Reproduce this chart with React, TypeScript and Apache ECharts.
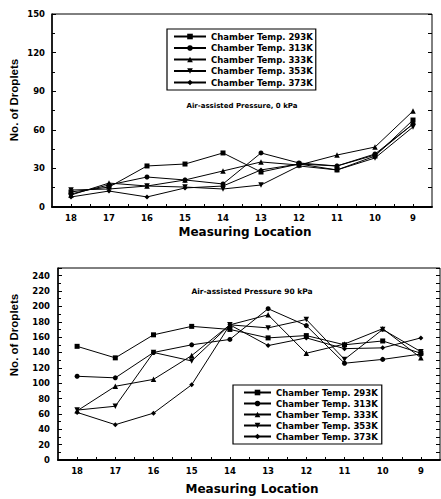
import React, { useEffect, useRef } from "react";
import * as echarts from "echarts";

// Measuring locations (x axis, plotted right-to-left from 18 down to 9)
const locations = [18, 17, 16, 15, 14, 13, 12, 11, 10, 9];
const seriesNames = [
  "Chamber Temp. 293K",
  "Chamber Temp. 313K",
  "Chamber Temp. 333K",
  "Chamber Temp. 353K",
  "Chamber Temp. 373K",
];

// Upper chart (air-assisted pressure 0 kPa)
const top293 = [11.7, 15.5, 31.9, 33.4, 42.0, 27.2, 33.4, 28.8, 39.6, 67.6];
const top313 = [10.1, 17.1, 23.3, 21.0, 17.9, 42.0, 34.2, 31.9, 41.2, 64.5];
const top333 = [9.3, 18.6, 16.3, 21.0, 28.0, 35.0, 32.6, 40.4, 46.6, 74.6];
const top353 = [13.2, 14.0, 16.3, 15.5, 14.0, 17.1, 31.9, 28.8, 38.1, 62.2];
const top373 = [7.8, 12.4, 7.8, 14.8, 16.3, 28.8, 33.4, 31.9, 40.4, 64.5];

// Lower chart (air-assisted pressure 90 kPa)
const bot293 = [148, 133, 163, 174, 170, 159, 162, 150, 155, 139];
const bot313 = [109, 107, 140, 150, 157, 197, 175, 126, 131, 138];
const bot333 = [64, 96, 105, 136, 176, 189, 139, 151, 171, 133];
const bot353 = [65, 70, 140, 129, 176, 172, 183, 131, 170, 141];
const bot373 = [62, 46, 61, 98, 176, 149, 159, 145, 146, 159];

const topTitle = "Air-assisted Pressure, 0 kPa";
const botTitle = "Air-assisted Pressure 90 kPa";
const yName = "No. of Droplets";
const xName = "Measuring Location";

const symbols = [
  "rect",
  "circle",
  "triangle",
  "path://M0,0L10,0L5,9Z",
  "diamond",
];
const symbolSizes = [5, 5, 5.5, 5.5, 5];

const FONT = "DejaVu Sans";

export default function App() {
  const ref = useRef<HTMLDivElement>(null);
  useEffect(() => {
    if (!ref.current) return;
    const chart = echarts.init(ref.current, null, { renderer: "svg" });

    const labelStyle = {
      color: "#000",
      fontFamily: FONT,
      fontWeight: "bold" as const,
      fontSize: 8.5,
    };

    const mkX = (gi: number) => ({
      type: "value",
      gridIndex: gi,
      inverse: true,
      min: 8.5,
      max: 18.5,
      interval: 0.5,
      axisLine: { show: true, lineStyle: { color: "#000", width: 2 } },
      axisTick: { show: true, inside: true, length: 3, lineStyle: { color: "#000", width: 1 } },
      axisLabel: {
        ...labelStyle,
        margin: 6,
        showMinLabel: false,
        showMaxLabel: false,
        formatter: (v: number) => (Number.isInteger(v) && locations.includes(v) ? String(v) : ""),
      },
      splitLine: { show: false },
    });

    const topData = [top293, top313, top333, top353, top373];
    const botData = [bot293, bot313, bot333, bot353, bot373];

    const mkSeries = (data: number[][], xi: number, yi: number) =>
      data.map((vals, i) => ({
        type: "line",
        name: seriesNames[i],
        xAxisIndex: xi,
        yAxisIndex: yi,
        data: vals.map((v, k) => [locations[k], v]),
        symbol: symbols[i],
        symbolSize: symbolSizes[i],
        showAllSymbol: true,
        lineStyle: { color: "#000", width: 1 },
        itemStyle: { color: "#000" },
        emphasis: { disabled: true },
      }));

    const legendBase = {
      orient: "vertical",
      selectedMode: false,
      borderColor: "#000",
      borderWidth: 1.2,
      backgroundColor: "#fff",
      itemHeight: 7,
      textStyle: { ...labelStyle, fontSize: 8.5 },
      data: seriesNames,
    };

    const tickStyle = { color: "#000" };

    const option: any = {
      animation: false,
      grid: [
        { left: 52, top: 14, width: 380, height: 193, show: true, borderColor: "#000", borderWidth: 1 },
        { left: 58, top: 268, width: 382, height: 192, show: true, borderColor: "#000", borderWidth: 1 },
      ],
      xAxis: [mkX(0), mkX(1)],
      yAxis: [
        {
          type: "value",
          gridIndex: 0,
          min: 0,
          max: 150,
          interval: 30,
          axisLine: { show: true, lineStyle: { color: "#000", width: 1.5 } },
          axisTick: { show: true, inside: true, length: 4, lineStyle: tickStyle },
          minorTick: { show: true, splitNumber: 2, length: 3, lineStyle: tickStyle },
          axisLabel: { ...labelStyle, margin: 7 },
          splitLine: { show: false },
        },
        {
          type: "value",
          gridIndex: 0,
          position: "right",
          min: 0,
          max: 150,
          interval: 15,
          axisLine: { show: false },
          axisTick: { show: true, inside: true, length: 4, lineStyle: tickStyle },
          axisLabel: { show: false },
          splitLine: { show: false },
        },
        {
          type: "value",
          gridIndex: 1,
          min: 0,
          max: 250,
          interval: 20,
          axisLine: { show: true, lineStyle: { color: "#000", width: 1.5 } },
          axisTick: { show: true, inside: true, length: 4, lineStyle: tickStyle },
          minorTick: { show: true, splitNumber: 2, length: 3, lineStyle: tickStyle },
          axisLabel: { ...labelStyle, margin: 8, showMaxLabel: false },
          splitLine: { show: false },
        },
        {
          type: "value",
          gridIndex: 1,
          position: "right",
          min: 0,
          max: 250,
          interval: 10,
          axisLine: { show: false },
          axisTick: { show: true, inside: true, length: 4, lineStyle: tickStyle },
          axisLabel: { show: false },
          splitLine: { show: false },
        },
      ],
      legend: [
        {
          ...legendBase,
          left: 167,
          top: 29,
          padding: [3, 3, 3, 6],
          itemGap: 2.5,
          itemWidth: 32,
        },
        {
          ...legendBase,
          left: 233,
          top: 385,
          padding: [3, 4, 3, 10],
          itemGap: 2,
          itemWidth: 27,
        },
      ],
      series: [...mkSeries(topData, 0, 0), ...mkSeries(botData, 1, 2)],
      graphic: [
        {
          type: "text",
          x: 14,
          y: 100,
          rotation: Math.PI / 2,
          style: {
            text: yName,
            fill: "#000",
            font: "bold 11.5px 'Liberation Sans'",
            align: "center",
            verticalAlign: "middle",
          },
        },
        {
          type: "text",
          x: 14,
          y: 335,
          rotation: Math.PI / 2,
          style: {
            text: yName,
            fill: "#000",
            font: "bold 11.5px 'Liberation Sans'",
            align: "center",
            verticalAlign: "middle",
          },
        },
        {
          type: "text",
          x: 245,
          y: 232,
          style: {
            text: xName,
            fill: "#000",
            font: `bold 12px '${FONT}'`,
            align: "center",
            verticalAlign: "middle",
          },
        },
        {
          type: "text",
          x: 252,
          y: 489,
          style: {
            text: xName,
            fill: "#000",
            font: `bold 12px '${FONT}'`,
            align: "center",
            verticalAlign: "middle",
          },
        },
        {
          type: "text",
          x: 242,
          y: 106,
          style: {
            text: topTitle,
            fill: "#000",
            font: `bold 7px '${FONT}'`,
            align: "center",
            verticalAlign: "middle",
          },
        },
        {
          type: "text",
          x: 252,
          y: 291,
          style: {
            text: botTitle,
            fill: "#000",
            font: `bold 7.5px '${FONT}'`,
            align: "center",
            verticalAlign: "middle",
          },
        },
      ],
    };

    chart.setOption(option);
    return () => chart.dispose();
  }, []);

  return (
    <div
      ref={ref}
      style={{ position: "absolute", left: 0, top: 0, width: 441, height: 499, background: "#fff" }}
    />
  );
}
